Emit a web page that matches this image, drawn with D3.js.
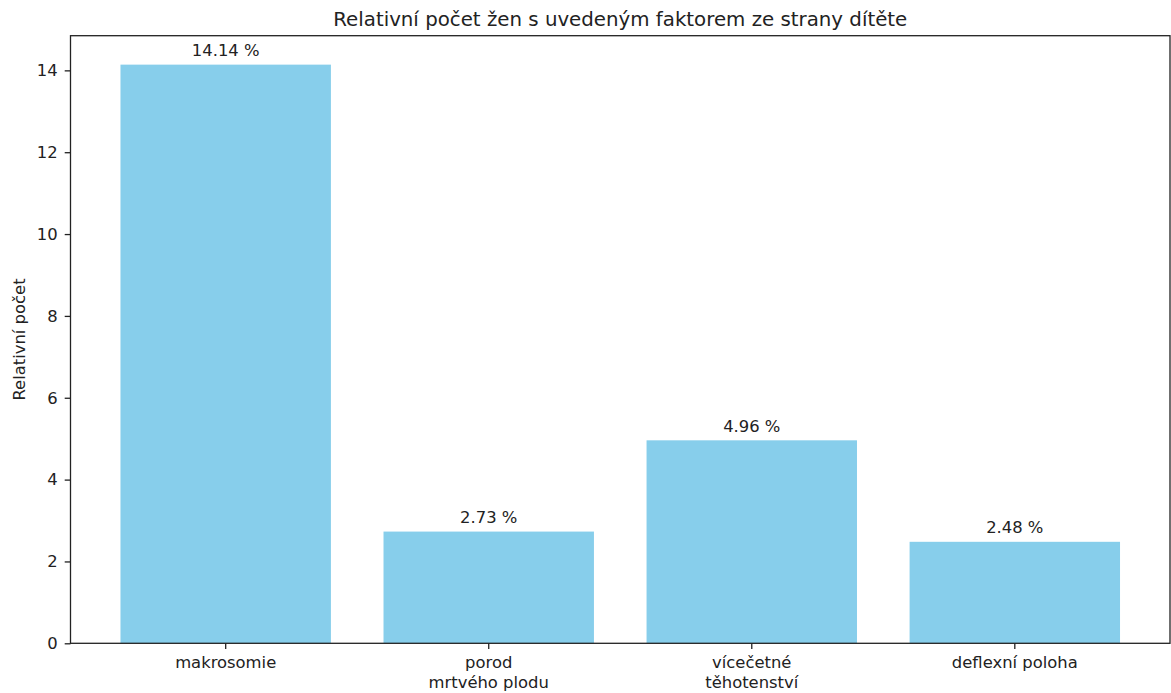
<!DOCTYPE html>
<html><head><meta charset="utf-8">
<script src="https://cdn.jsdelivr.net/npm/d3@7"></script>
<style>body{margin:0;background:#fff}svg{display:block;font-family:"DejaVu Sans",sans-serif}</style>
</head><body><svg id="c" width="1171" height="693"></svg>
<script>
const categories = [["makrosomie"], ["porod", "mrtvého plodu"], ["vícečetné", "těhotenství"], ["deflexní poloha"]];
const values = [14.14, 2.73, 4.96, 2.48];
const yTicks = [0, 2, 4, 6, 8, 10, 12, 14];
const title = "Relativní počet žen s uvedeným faktorem ze strany dítěte";
const yLabel = "Relativní počet";

const svg = d3.select("#c");
const L = 70.5, R = 1170, T = 35.7, B = 643.3;
const FS = 16.4, TFS = 19.8, TL = 5.8;
const n = values.length;
const x = d3.scaleLinear().domain([-0.4 - 0.05 * (n - 0.2), n - 0.6 + 0.05 * (n - 0.2)]).range([L, R]);
const ymax = d3.max(values) * 1.05;
const y = d3.scaleLinear().domain([0, ymax]).range([B, T]);
const bw = x(0.8) - x(0);

svg.selectAll("rect.bar").data(values).join("rect").attr("class", "bar")
  .attr("x", (d, i) => x(i - 0.4)).attr("width", bw)
  .attr("y", d => y(d)).attr("height", d => B - y(d)).attr("fill", "#87ceeb");

svg.selectAll("text.val").data(values).join("text").attr("class", "val")
  .attr("x", (d, i) => x(i)).attr("y", d => y(d) - 8.5)
  .attr("text-anchor", "middle").attr("font-size", FS).attr("fill", "#222")
  .text(d => d.toFixed(2) + " %");

const ya = d3.axisLeft(y).tickValues(yTicks).tickSize(TL).tickPadding(7).tickFormat(d3.format("d"));
const gy = svg.append("g").attr("transform", `translate(${L},0)`).call(ya);
gy.select(".domain").remove();
gy.selectAll("text").attr("font-size", FS).attr("font-family", "DejaVu Sans").attr("fill", "#222");
gy.selectAll("line").attr("stroke", "#222").attr("stroke-width", 1.3);

const gx = svg.append("g").attr("transform", `translate(0,${B})`);
categories.forEach((c, i) => {
  gx.append("line").attr("x1", x(i)).attr("x2", x(i)).attr("y1", 0).attr("y2", TL).attr("stroke", "#222").attr("stroke-width", 1.3);
  const t = gx.append("text").attr("x", x(i)).attr("y", 24.5).attr("text-anchor", "middle").attr("font-size", FS).attr("fill", "#222");
  c.forEach((line, j) => t.append("tspan").attr("x", x(i)).attr("dy", j === 0 ? 0 : 19.8).text(line));
});

svg.append("rect").attr("x", L).attr("y", T).attr("width", R - L).attr("height", B - T)
  .attr("fill", "none").attr("stroke", "#222").attr("stroke-width", 1.3);

svg.append("text").attr("x", (L + R) / 2).attr("y", 26).attr("text-anchor", "middle")
  .attr("font-size", TFS).attr("fill", "#222").text(title);

svg.append("text").attr("transform", `translate(25,${(T + B) / 2}) rotate(-90)`).attr("text-anchor", "middle")
  .attr("font-size", FS).attr("fill", "#222").text(yLabel);
</script></body></html>
